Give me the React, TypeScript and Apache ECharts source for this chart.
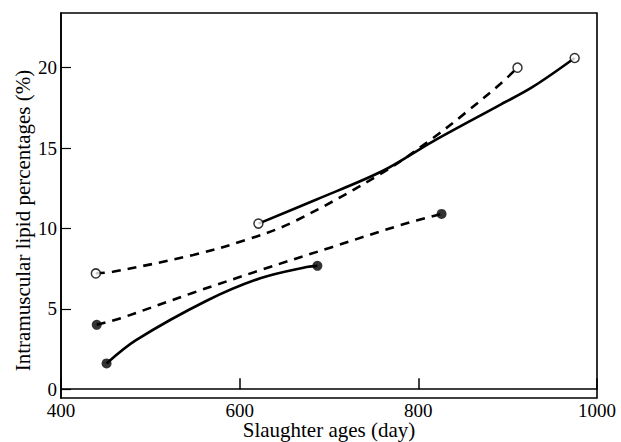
import React, { useEffect, useRef } from "react";
import * as echarts from "echarts";

// x: slaughter age (day), y: intramuscular lipid (%)
const openSolid: number[][] = [[621, 10.3], [686, 11.8], [761, 13.6], [816, 15.4], [892, 17.7], [928, 18.8], [975, 20.6]];
const openDashed: number[][] = [[439, 7.2], [458, 7.3], [548, 8.35], [608, 9.3], [660, 10.4], [761, 13.5], [816, 15.6], [853, 17.2], [892, 19.0], [911, 20.0]];
const filledDashed: number[][] = [[440, 4.0], [466, 4.4], [548, 6.0], [623, 7.4], [704, 8.85], [780, 10.2], [826, 10.9]];
const filledSolid: number[][] = [[451, 1.6], [484, 3.05], [563, 5.5], [623, 6.9], [675, 7.6], [687, 7.67]];

const yTicks = [0, 5, 10, 15, 20];
const xTicks = [400, 600, 800, 1000];

const FONT = "'Liberation Serif', 'Times New Roman', 'DejaVu Serif', serif";

function ends(d: number[][]) {
  return [d[0], d[d.length - 1]];
}

export default function App() {
  const ref = useRef<HTMLDivElement>(null);
  useEffect(() => {
    if (!ref.current) return;
    const chart = echarts.init(ref.current, undefined, { renderer: "svg" });
    const curve = (data: number[][], dashed: boolean) => ({
      type: "line",
      data,
      smooth: 0.35,
      symbol: "none",
      lineStyle: { color: "#000", width: 2.6, type: dashed ? [9, 7] : "solid" },
      z: 2,
    });
    const marks = (data: number[][], open: boolean) => ({
      type: "scatter",
      data: ends(data),
      symbol: "circle",
      symbolSize: open ? 9 : 10,
      itemStyle: open
        ? { color: "#fff", borderColor: "#000", borderWidth: 1.5 }
        : { color: "#000" },
      z: 5,
    });
    chart.setOption({
      animation: false,
      backgroundColor: "#fff",
      textStyle: { fontFamily: FONT },
      grid: {
        left: 61,
        right: 24,
        top: 13,
        bottom: 44,
        outerBoundsMode: "none",
        containLabel: false,
        show: true,
        borderColor: "#000",
        borderWidth: 1.6,
        backgroundColor: "transparent",
      },
      xAxis: {
        type: "value",
        min: 400,
        max: 1000,
        interval: 200,
        name: "Slaughter ages (day)",
        nameLocation: "middle",
        nameGap: 21,
        nameMoveOverlap: false,
        nameTextStyle: { color: "#000", fontSize: 21, fontFamily: FONT },
        axisLine: { lineStyle: { color: "#000", width: 1.6 } },
        axisTick: { inside: true, length: 11, lineStyle: { color: "#000", width: 1.5 }, customValues: xTicks },
        axisLabel: {
          color: "#000",
          fontSize: 19,
          fontFamily: FONT,
          margin: 3,
          customValues: xTicks,
          formatter: (v: number) => String(v),
        },
        splitLine: { show: false },
      },
      yAxis: {
        type: "value",
        min: -0.55,
        max: 23.4,
        name: "Intramuscular lipid percentages (%)",
        nameLocation: "middle",
        nameGap: 28,
        nameMoveOverlap: false,
        nameTextStyle: { color: "#000", fontSize: 21, fontFamily: FONT, padding: [0, 30, 0, 0] },
        axisLine: { lineStyle: { color: "#000", width: 1.6 } },
        axisTick: { inside: true, length: 10, lineStyle: { color: "#000", width: 1.2 }, customValues: yTicks },
        axisLabel: { color: "#000", fontSize: 19, fontFamily: FONT, margin: 4, customValues: yTicks },
        splitLine: { show: false },
      },
      series: [
        curve(openSolid, false),
        curve(openDashed, true),
        curve(filledDashed, true),
        curve(filledSolid, false),
        marks(openSolid, true),
        marks(openDashed, true),
        marks(filledDashed, false),
        marks(filledSolid, false),
      ],
    });
    return () => chart.dispose();
  }, []);
  return <div ref={ref} style={{ width: 621, height: 442, position: "absolute", left: 0, top: 0 }} />;
}
